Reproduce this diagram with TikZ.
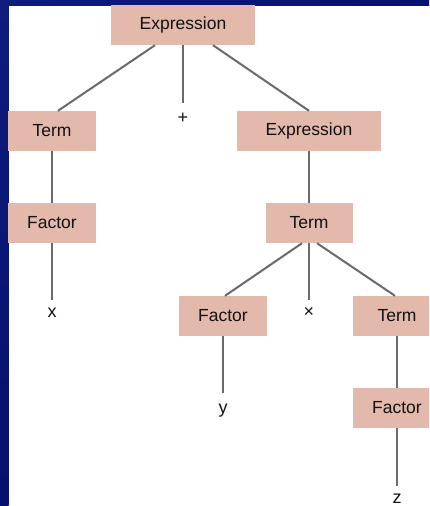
\documentclass[tikz,border=0pt]{standalone}
\usepackage{fontspec}
\setmainfont{Liberation Sans}
\definecolor{frameblue}{HTML}{06106E}
\definecolor{frameblueTop}{HTML}{0E1C7C}
\definecolor{boxfill}{HTML}{E2B9AB}
\definecolor{edgegray}{HTML}{6A6A6A}
\tikzset{
  sym/.style={rectangle, fill=boxfill, draw=none, minimum height=40pt,
    minimum width=88pt, inner sep=0pt, text=black!93,
    font=\fontsize{17.5}{21}\selectfont},
  wide/.style={sym, minimum width=144pt},
  leaf/.style={inner sep=0pt, anchor=base, text height=17pt, text depth=0pt,
    font=\fontsize{18}{21}\selectfont, text=black!93},
  edge/.style={draw=edgegray, line width=2pt}
}
\begin{document}
\begin{tikzpicture}[x=1pt, y=-1pt]
  \useasboundingbox (0,0) rectangle (429,506);
  \clip (0,0) rectangle (429,506);
  % white canvas with the slide's blue frame along the left and top
  \fill[white] (0,0) rectangle (429,506);
  \shade[top color=frameblueTop, bottom color=frameblue] (0,0) rectangle (8.5,506);
  \shade[left color=frameblueTop, right color=frameblue] (0,0) rectangle (429,5);

  % nonterminal boxes
  \node[wide] (E1) at (183,25) {Expression};
  \node[sym]  (T1) at (52,131) {Term};
  \node[wide] (E2) at (309,131) {Expression};
  \node[sym]  (F1) at (52,223) {Factor};
  \node[sym, minimum width=87pt] (T2) at (309,223) {Term};
  \node[sym]  (F2) at (223,316) {Factor};
  \node[sym]  (T3) at (397,316) {Term};
  \node[sym]  (F3) at (397,408) {Factor};

  % terminal symbols
  \node[leaf, text height=20pt] (plus) at (183,123) {+};
  \node[leaf] (xv) at (52,317) {x};
  \node[leaf] (times) at (309,317) {×};
  \node[leaf, text height=20pt] (yv) at (223,413) {y};
  \node[leaf] (zv) at (397,503) {z};

  % parse tree edges
  \draw[edge] ([xshift=-28pt]E1.south) -- ([xshift=6pt]T1.north);
  \draw[edge] (E1.south) -- (plus.north);
  \draw[edge] ([xshift=30pt]E1.south) -- (E2.north);
  \draw[edge] (T1.south) -- (F1.north);
  \draw[edge] (F1.south) -- (xv.north);
  \draw[edge] (E2.south) -- (T2.north);
  \draw[edge] ([xshift=-7pt]T2.south) -- ([xshift=2pt]F2.north);
  \draw[edge] (T2.south) -- (times.north);
  \draw[edge] ([xshift=8pt]T2.south) -- ([xshift=-2pt]T3.north);
  \draw[edge] (F2.south) -- (yv.north);
  \draw[edge] (T3.south) -- (F3.north);
  \draw[edge] (F3.south) -- (zv.north);
\end{tikzpicture}
\end{document}
